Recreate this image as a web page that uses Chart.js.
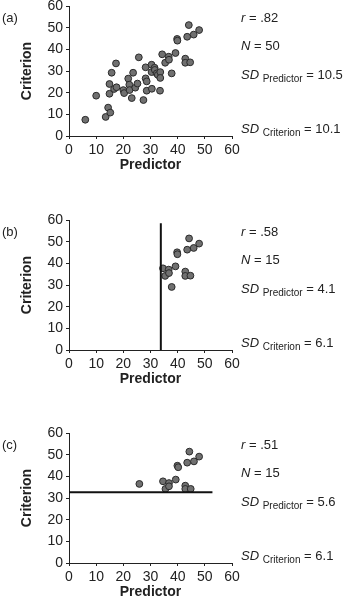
<!DOCTYPE html>
<html>
<head>
<meta charset="utf-8">
<script src="https://cdn.jsdelivr.net/npm/chart.js@4.4.1/dist/chart.umd.min.js"></script>
<style>
  body { margin: 0; background: #fff; width: 348px; height: 598px; overflow: hidden; position: relative; font-family: "Liberation Sans", Arial, sans-serif; color: #222; }
  .panel { position: absolute; left: 0; width: 348px; height: 174px; }
  .tag { position: absolute; left: 2px; font-size: 13px; }
  .stat { position: absolute; left: 241px; font-size: 13px; white-space: nowrap; }
  .stat i { font-style: italic; }
  .stat sub { font-size: 10px; vertical-align: -3px; }
</style>
</head>
<body>

<div class="panel" style="top:0"><canvas id="chart-a" width="348" height="174"></canvas></div>
<div class="panel" style="top:214px"><canvas id="chart-b" width="348" height="174"></canvas></div>
<div class="panel" style="top:427px"><canvas id="chart-c" width="348" height="174"></canvas></div>

<script>
// panel (a): full sample
const predictorA = [6.0, 10.0, 13.5, 14.4, 15.2, 14.9, 14.9, 15.7, 17.3, 16.6, 17.5, 20.0, 20.3, 21.8, 22.2, 22.3, 23.1, 23.6, 24.4, 25.2, 25.7, 27.4, 28.2, 28.2, 28.6, 28.6, 30.4, 30.4, 30.5, 31.5, 31.6, 32.3, 32.7, 33.5, 34.3, 33.6, 33.6, 35.4, 36.7, 36.8, 37.8, 39.2, 39.8, 39.9, 42.8, 42.8, 43.5, 44.6, 44.1, 45.9, 47.9];
const criterionA = [7.5, 18.6, 8.8, 13.1, 10.8, 19.5, 24.0, 29.2, 33.5, 21.7, 22.5, 21.2, 19.8, 26.5, 23.7, 21.2, 17.5, 29.2, 22.3, 24.2, 36.3, 16.6, 31.7, 26.6, 25.2, 20.9, 32.9, 29.5, 21.8, 31.5, 30.5, 28.9, 28.2, 20.9, 37.7, 29.5, 26.8, 33.8, 36.6, 35.2, 28.9, 38.3, 44.8, 44.0, 35.7, 33.8, 45.8, 34.0, 51.2, 46.8, 48.9];

// panel (b): selected on predictor
const predictorB = [34.6, 35.4, 36.7, 36.8, 37.8, 39.2, 39.8, 39.9, 42.8, 42.8, 43.5, 44.7, 44.2, 45.9, 47.9];
const criterionB = [37.7, 34.2, 37.1, 35.5, 29.1, 38.6, 45.1, 44.2, 36.2, 34.2, 46.3, 34.3, 51.5, 47.1, 49.1];
const cutoffB = 33.8;
const cutoffBTop = 58.5;

// panel (c): selected on criterion
const predictorC = [25.9, 34.6, 35.5, 36.8, 36.8, 39.3, 39.9, 40.2, 42.8, 42.8, 43.5, 44.8, 44.3, 46.0, 47.9];
const criterionC = [36.5, 37.7, 34.2, 36.9, 35.4, 38.5, 44.9, 44.2, 35.7, 34.2, 46.3, 34.2, 51.4, 46.9, 49.1];
const cutoffC = 32.6;
const cutoffCEnd = 52.8;

const panelTags = ['(a)', '(b)', '(c)'];
const rValues = ['.82', '.58', '.51'];
const nValues = ['50', '15', '15'];
const sdPredictor = ['10.5', '4.1', '5.6'];
const sdCriterion = ['10.1', '6.1', '6.1'];

const font = "'Liberation Sans', Arial, sans-serif";

function toPoints(xs, ys) {
    return xs.map((x, i) => ({ x: x, y: ys[i] }));
}

function scatterData(xs, ys) {
    return {
        type: 'scatter',
        data: toPoints(xs, ys),
        backgroundColor: '#707070',
        borderColor: '#2a2a2a',
        borderWidth: 1,
        pointRadius: 3.4,
        pointHoverRadius: 3.4,
        order: 2
    };
}

function cutLine(points) {
    return {
        type: 'line',
        data: points,
        borderColor: '#111',
        borderWidth: 2,
        pointRadius: 0,
        fill: false,
        order: 1
    };
}

function axis(titleText, isY) {
    return {
        type: 'linear',
        min: 0,
        max: 60,
        position: isY ? 'left' : 'bottom',
        ticks: {
            stepSize: 10,
            color: '#222',
            padding: 3,
            maxRotation: 0,
            font: { family: font, size: 14 }
        },
        grid: {
            drawOnChartArea: false,
            drawTicks: true,
            tickLength: 3,
            color: '#222',
            lineWidth: 1
        },
        border: { display: true, color: '#222', width: 1 },
        title: {
            display: true,
            text: titleText,
            color: '#222',
            font: { family: font, size: 14, weight: 'bold' },
            padding: isY ? { top: 19, bottom: 0 } : { top: 0, bottom: 0 }
        },
        afterFit: function (scale) {
            if (isY) {
                scale.width = 69;
                scale.paddingTop = 0;
                scale.paddingBottom = 0;
            } else {
                scale.height = 38;
            }
        }
    };
}

function makeChart(id, datasets) {
    new Chart(document.getElementById(id), {
        data: { datasets: datasets },
        options: {
            responsive: false,
            animation: false,
            layout: { padding: { top: 6, right: 116, bottom: 0, left: 0 } },
            plugins: { legend: { display: false }, tooltip: { enabled: false } },
            scales: {
                x: axis('Predictor', false),
                y: axis('Criterion', true)
            }
        }
    });
}

makeChart('chart-a', [scatterData(predictorA, criterionA)]);
makeChart('chart-b', [
    scatterData(predictorB, criterionB),
    cutLine([{ x: cutoffB, y: 0 }, { x: cutoffB, y: cutoffBTop }])
]);
makeChart('chart-c', [
    scatterData(predictorC, criterionC),
    cutLine([{ x: 0, y: cutoffC }, { x: cutoffCEnd, y: cutoffC }])
]);

// panel tags and statistics text
const panelTops = [0, 214, 427];
const statOffsets = [10, 38, 67, 121];
panelTops.forEach((top, i) => {
    const tag = document.createElement('div');
    tag.className = 'tag';
    tag.style.top = (top + 10) + 'px';
    tag.textContent = panelTags[i];
    document.body.appendChild(tag);

    const lines = [
        '<i>r</i> = ' + rValues[i],
        '<i>N</i> = ' + nValues[i],
        '<i>SD</i> <sub>Predictor</sub> = ' + sdPredictor[i],
        '<i>SD</i> <sub>Criterion</sub> = ' + sdCriterion[i]
    ];
    lines.forEach((html, j) => {
        const d = document.createElement('div');
        d.className = 'stat';
        d.style.top = (top + statOffsets[j]) + 'px';
        d.innerHTML = html;
        document.body.appendChild(d);
    });
});
</script>
</body>
</html>
